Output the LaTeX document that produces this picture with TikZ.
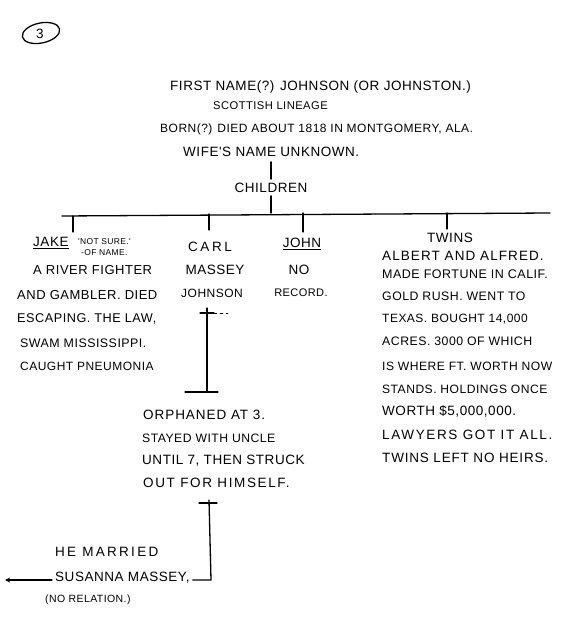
\documentclass[tikz,border=0pt]{standalone}
\usepackage{fontspec}
\newfontfamily\handfont[LetterSpace=4]{Liberation Sans}
\usetikzlibrary{positioning}
\tikzset{
  hand/.style={font=\handfont\fontsize{#1}{15}\selectfont, inner sep=0pt, anchor=west},
  hand/.default=13.5,
  wide/.style={hand, font=\handfont\addfontfeature{LetterSpace=#1}\fontsize{13.5}{15}\selectfont},
  col/.style={hand=#1, anchor=center},
  col/.default=13.5,
  tiny/.style={font=\handfont\fontsize{8.5}{9}\selectfont, inner sep=0pt, anchor=west},
  stroke/.style={line width=1.3pt, line cap=round},
}
\begin{document}
\begin{tikzpicture}[line cap=round,line join=round,>=stealth,x=1pt,y=-1pt]
	\useasboundingbox (0,0) rectangle (564,642);
	
	% page number
	\draw[stroke, rotate around={12:(41,33)}] (41,33) ellipse (19pt and 10pt);
	\node[col] (page) at (40,34) {3};
	
	% father
	\node[hand] (first) at (170,87) {FIRST NAME(?) JOHNSON (OR JOHNSTON.)};
	\node[hand=11.2] (scot) at (213,106) {SCOTTISH LINEAGE};
	\node[hand=12] (born) at (160,129) {BORN(?) DIED ABOUT 1818 IN MONTGOMERY, ALA.};
	\node[hand] (wife) at (183,152) {WIFE'S NAME UNKNOWN.};
	\node[col] (children) at (271,188) {CHILDREN};
	\draw[stroke] ([yshift=-5pt]wife.south -| children.north) -- ([yshift=4pt]children.north);
	
	% the bar
	\coordinate (barL) at (62,216);
	\coordinate (barR) at (550,213);
	\draw[stroke] (barL) -- (barR);
	\draw[stroke] ([yshift=-3pt]children.south) -- (children.south |- barR);
	
	% Jake
	\node[hand] (jake) at (33,243) {\underline{JAKE}};
	\node[tiny] (notsure) at (78,242) {'NOT SURE.'};
	\node[tiny] (ofname) at (81,253) {-OF NAME.};
	\node[hand=13] (jake1) at (33,270) {A RIVER FIGHTER};
	\node[hand=13] (jake2) at (17,295) {AND GAMBLER. DIED};
	\node[hand=12.7] (jake3) at (17,319) {ESCAPING. THE LAW,};
	\node[hand=12.4] (jake4) at (20,343) {SWAM MISSISSIPPI.};
	\node[hand=12] (jake5) at (20,366) {CAUGHT PNEUMONIA};
	\draw[stroke] (73,216) -- (73,232);
	
	% Carl
	\node[wide=19, anchor=center] (carl) at (210,247) {CARL};
	\node[col] (massey) at (215,270) {MASSEY};
	\node[col=12] (johnson) at (212,293) {JOHNSON};
	\draw[stroke] (carl.north |- barR) ++(-1,1) -- ++(0,16);
	
	% John
	\node[col] (john) at (302,244) {\underline{JOHN}};
	\node[col] (no) at (299,270) {NO};
	\node[col=11] (record) at (301,293) {RECORD.};
	\draw[stroke] (303,213) -- (303,232);
	
	% twins
	\node[col] (twins) at (450,238) {TWINS};
	\node[wide=8] (tw0) at (382,256) {ALBERT AND ALFRED.};
	\node[hand=12.5] (tw1) at (382,274) {MADE FORTUNE IN CALIF.};
	\node[hand=12.3] (tw2) at (382,296) {GOLD RUSH. WENT TO};
	\node[hand=12] (tw3) at (382,319) {TEXAS. BOUGHT 14,000};
	\node[hand=12.3] (tw4) at (382,341) {ACRES. 3000 OF WHICH};
	\node[hand=12.1] (tw5) at (382,366) {IS WHERE FT. WORTH NOW};
	\node[hand=12.1] (tw6) at (382,389) {STANDS. HOLDINGS ONCE};
	\node[hand] (tw7) at (382,411) {WORTH \$5,000,000.};
	\node[wide=12] (tw8) at (382,435) {LAWYERS GOT IT ALL.};
	\node[wide=6] (tw9) at (382,458) {TWINS LEFT NO HEIRS.};
	\draw[stroke] (447,213) -- (447,229);
	
	% Carl's line
	\coordinate (c1) at (207,308);
	\coordinate (c2) at (207,392);
	\draw[stroke] (c1) -- (c2);
	\draw[stroke] (200,313) -- (214,313);
	\draw[dashed] (214,313) -- (228,313);
	\draw[stroke] (185,392) -- (218,392);
	
	\node[wide=7] (orph1) at (143,415) {ORPHANED AT 3.};
	\node[hand=12.2] (orph2) at (142,438) {STAYED WITH UNCLE};
	\node[hand] (orph3) at (142,461) {UNTIL 7, THEN STRUCK};
	\node[wide=12] (orph4) at (143,483) {OUT FOR HIMSELF.};
	
	% marriage
	\node[wide=17] (married) at (55,552) {HE MARRIED};
	\node[hand] (susanna) at (55,578) {SUSANNA MASSEY,};
	\node[tiny, font=\handfont\fontsize{10.5}{11}\selectfont] (norel) at (45,600) {(NO RELATION.)};
	\coordinate (m1) at (209,500);
	\coordinate (m2) at (211,580);
	\draw[stroke] (199,503) -- (217,503);
	\draw[stroke] (m1) -- (m2) -- ([xshift=3pt]susanna.east |- m2);
	\draw[stroke,->] ([xshift=-3pt]susanna.west |- m2) -- (5,580);
\end{tikzpicture}
\end{document}
